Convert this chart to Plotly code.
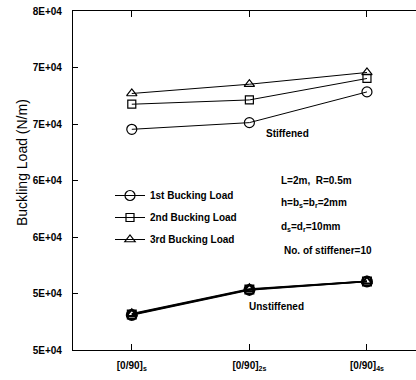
import plotly.graph_objects as go

categories = ["[0/90]<sub>s</sub>", "[0/90]<sub>2s</sub>", "[0/90]<sub>4s</sub>"]
x_pos = [0, 1, 2]

stiff_1st = [69530, 70120, 72840]
stiff_2nd = [71750, 72130, 74030]
stiff_3rd = [72700, 73520, 74560]

unstiff_1st = [53100, 55320, 56060]
unstiff_2nd = [53150, 55360, 56070]
unstiff_3rd = [53200, 55400, 56080]

names = ["1st Bucking Load", "2nd Bucking Load", "3rd Bucking Load"]
symbols = ["circle-open", "square-open", "triangle-up-open"]
sizes = [10, 8, 9]

y_tickvals = [50000, 55000, 60000, 65000, 70000, 75000, 80000]
y_ticktext = ["5E+04", "5E+04", "6E+04", "6E+04", "7E+04", "7E+04", "8E+04"]

FONT = "Liberation Sans, Arial, sans-serif"

fig = go.Figure()
for i, (name, sym, sz, ys) in enumerate(zip(names, symbols, sizes, [stiff_1st, stiff_2nd, stiff_3rd])):
    fig.add_trace(go.Scatter(
        x=x_pos, y=ys, name=name, mode="lines+markers", legendgroup=f"g{i}",
        line=dict(color="black", width=1),
        marker=dict(symbol=sym, size=sz, color="black", line=dict(width=1.2, color="black")),
    ))
for sym, sz, ys in zip(symbols, sizes, [unstiff_1st, unstiff_2nd, unstiff_3rd]):
    fig.add_trace(go.Scatter(
        x=x_pos, y=ys, mode="lines+markers", showlegend=False,
        line=dict(color="black", width=1.6),
        marker=dict(symbol=sym, size=sz, color="black", line=dict(width=2, color="black")),
    ))

annots = [
    ("L=2m,  R=0.5m", 279, 180),
    ("h=b<sub>s</sub>=b<sub>r</sub>=2mm", 279, 203),
    ("d<sub>s</sub>=d<sub>r</sub>=10mm", 279, 227),
    ("No. of stiffener=10", 282, 250),
]
L, R, T, B = 73, 416, 11, 350
def px(x):
    return (x - L) / (R - L)
def py(y):
    return (B - y) / (B - T)

for text, x, y in annots:
    fig.add_annotation(text=text, x=px(x), y=py(y), xref="paper", yref="paper",
                       xanchor="left", yanchor="middle", showarrow=False,
                       font=dict(family=FONT, size=10, color="black", weight="bold"))
fig.add_annotation(text="Stiffened", x=px(287), y=py(133), xref="paper", yref="paper",
                   xanchor="center", yanchor="middle",
                   showarrow=False, font=dict(family=FONT, size=10, color="black", weight="bold"))
fig.add_annotation(text="Unstiffened", x=px(276), y=py(306), xref="paper", yref="paper",
                   xanchor="center", yanchor="middle",
                   showarrow=False, font=dict(family=FONT, size=10, color="black", weight="bold"))
fig.add_annotation(text="Buckling Load (N/m)", x=px(22), y=py(163), xref="paper", yref="paper",
                   xanchor="center", yanchor="middle",
                   textangle=-90, showarrow=False, font=dict(family=FONT, size=14, color="black"))

fig.update_layout(
    width=416, height=380,
    margin=dict(l=L, r=0, t=T, b=380 - B),
    paper_bgcolor="white", plot_bgcolor="white",
    font=dict(family=FONT, color="black"),
    legend=dict(x=px(110), y=py(181), xanchor="left", yanchor="top",
                bgcolor="rgba(0,0,0,0)", font=dict(family=FONT, size=10, weight="bold"),
                tracegroupgap=3, itemwidth=30),
    xaxis=dict(range=[-0.5, 2.417], tickvals=x_pos, ticktext=categories,
               showgrid=False, zeroline=False, showline=True, linecolor="black", linewidth=1.2,
               mirror="ticks", ticks="inside", ticklen=6, tickcolor="black",
               tickfont=dict(family=FONT, size=10, weight="bold"), ticklabelstandoff=6),
    yaxis=dict(range=[50000, 80000], tickvals=y_tickvals, ticktext=y_ticktext,
               showgrid=False, zeroline=False, showline=True, linecolor="black", linewidth=1.2,
               ticks="inside", ticklen=5, tickcolor="black",
               tickfont=dict(family=FONT, size=10, weight="bold"), ticklabelstandoff=8),
)

fig.write_html("out.html")
